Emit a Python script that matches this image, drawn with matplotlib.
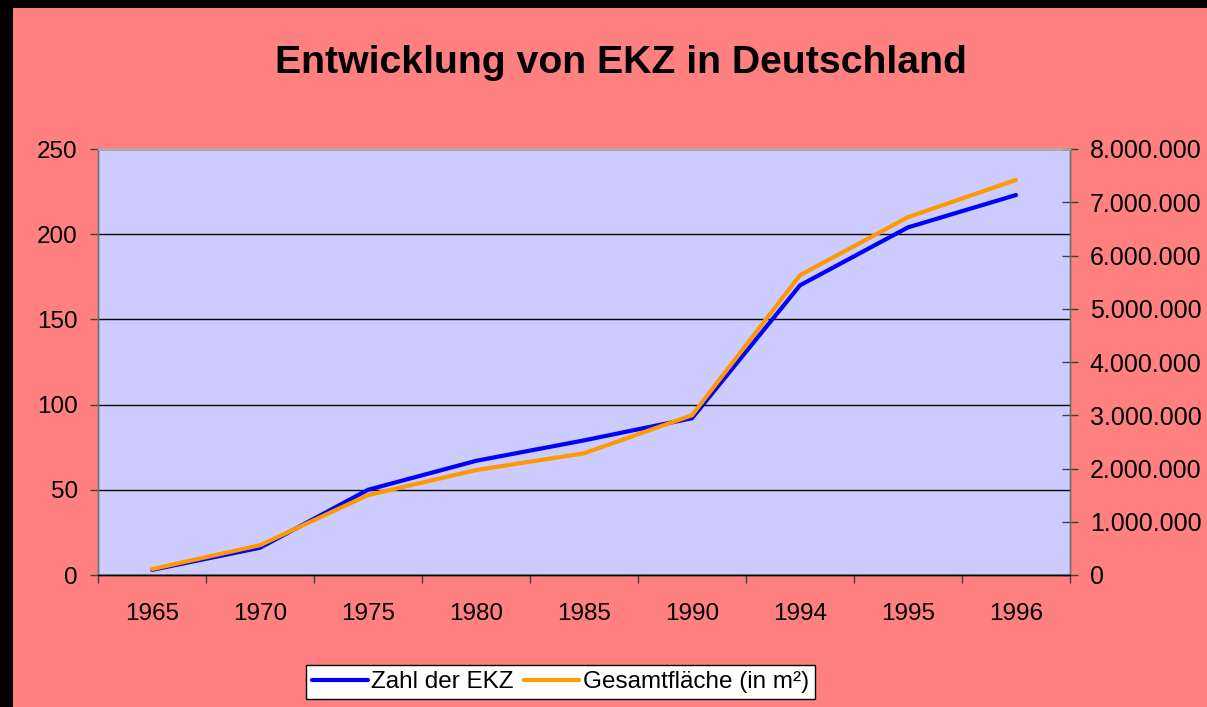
import matplotlib
matplotlib.use("Agg")
import matplotlib.pyplot as plt
from matplotlib.ticker import FuncFormatter, FixedLocator
from matplotlib.patches import Rectangle

plt.rcParams['font.family'] = ['Liberation Sans', 'DejaVu Sans']

years = ["1965", "1970", "1975", "1980", "1985", "1990", "1994", "1995", "1996"]
zahl_ekz = [3, 16, 50, 67, 79, 92, 170, 204, 223]
flaeche = [110000, 560000, 1500000, 1970000, 2285000, 3000000, 5630000, 6720000, 7420000]

left_ticks = [0, 50, 100, 150, 200, 250]
right_ticks = [0, 1000000, 2000000, 3000000, 4000000, 5000000, 6000000, 7000000, 8000000]

W, H = 1207, 707
fig = plt.figure(figsize=(W / 100, H / 100), dpi=100)
fig.patch.set_facecolor('#FF8080')

# black border strips (left and top)
fig.patches.append(Rectangle((0, 0), 13 / W, 1, transform=fig.transFigure,
                             facecolor='black', edgecolor='none', zorder=0))
fig.patches.append(Rectangle((0, 1 - 8 / H), 1, 8 / H, transform=fig.transFigure,
                             facecolor='black', edgecolor='none', zorder=0))

ax = fig.add_axes([98 / W, 1 - 575 / H, (1070 - 98) / W, (575 - 149) / H])
ax.set_facecolor('#CCCCFF')
ax2 = ax.twinx()

x = list(range(len(years)))
l1, = ax.plot(x, zahl_ekz, color='#0000FF', lw=3, solid_capstyle='round',
              solid_joinstyle='miter', label='Zahl der EKZ')
l2, = ax2.plot(x, flaeche, color='#FF9900', lw=3, solid_capstyle='round',
               solid_joinstyle='miter', label='Gesamtfläche (in m²)')

ax.set_xlim(-0.5, len(years) - 0.5)
ax.set_ylim(0, 250)
ax2.set_ylim(0, 8000000)

ax.set_yticks(left_ticks)
ax.yaxis.grid(True, color='black', lw=1)
ax.set_axisbelow(True)
ax2.set_yticks(right_ticks)
ax2.yaxis.set_major_formatter(FuncFormatter(lambda v, p: f"{int(v):,}".replace(",", ".")))

# category ticks at boundaries, labels at centres
ax.xaxis.set_major_locator(FixedLocator([i - 0.5 for i in range(len(years) + 1)]))
ax.xaxis.set_major_formatter(FuncFormatter(lambda v, p: ""))
ax.xaxis.set_minor_locator(FixedLocator(x))
ax.set_xticklabels(years, minor=True)
ax.tick_params(axis='x', which='major', direction='out', length=6, width=1, color='#404040')
ax.tick_params(axis='x', which='minor', length=0, pad=20, labelsize=17.5)
ax.tick_params(axis='y', direction='out', length=6, width=1, color='#404040', pad=8.5, labelsize=17.5)
ax2.tick_params(axis='y', direction='inout', length=11.5, width=1, color='#404040', pad=8.5, labelsize=18)

for a in (ax, ax2):
    a.spines['left'].set_color('#707070')
    a.spines['right'].set_color('#707070')
    a.spines['top'].set_color('#B0B0B0')
    a.spines['bottom'].set_color('black')
    for s in a.spines.values():
        s.set_linewidth(1)

fig.text(621 / W, 1 - 63 / H, "Entwicklung von EKZ in Deutschland", ha='center', va='center',
         fontsize=28.3, fontweight='bold', color='black')

leg = fig.legend([l1, l2], [l1.get_label(), l2.get_label()], loc='center',
                 bbox_to_anchor=(560.5 / W, 1 - 682 / H), bbox_transform=fig.transFigure,
                 ncol=2, fontsize=17.5, frameon=True, fancybox=False, framealpha=1,
                 edgecolor='black', facecolor='white', handlelength=2.3,
                 handletextpad=0.15, columnspacing=0.4, borderpad=0.25, borderaxespad=0)
leg.get_frame().set_linewidth(1)

fig.savefig("out.png", dpi=100, facecolor=fig.get_facecolor())
